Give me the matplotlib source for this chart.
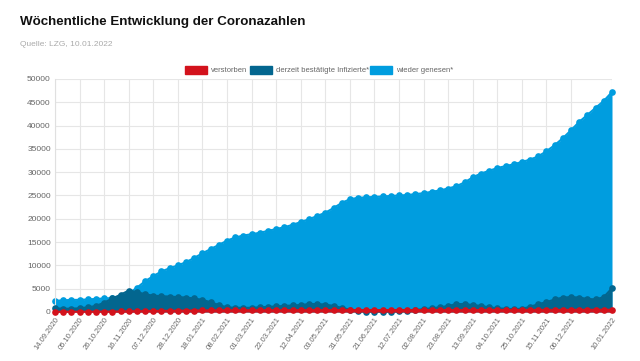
import numpy as np
import pandas as pd
import matplotlib
matplotlib.use('Agg')
import matplotlib.pyplot as plt
import matplotlib.patches as patches

plt.rcParams['font.family'] = ['Liberation Sans', 'DejaVu Sans']

# weekly dates (week of 24.05.2021 missing in the source)
weeks = pd.date_range('2020-09-14', '2022-01-10', freq='7D')
weeks = weeks[weeks != pd.Timestamp('2021-05-24')]
labels = [d.strftime('%d.%m.%Y') for d in weeks]

genesen = [2400, 2500, 2600, 2600, 2700, 2800, 2900, 3000, 3200, 4000,
           5200, 6600, 7700, 8700, 9400, 10000, 10700, 11600, 12600, 13500,
           14400, 15300, 16000, 16400, 16700, 17000, 17400, 17800, 18200, 18700,
           19300, 19900, 20600, 21300, 22300, 23400, 24200, 24500, 24600, 24700,
           24800, 24900, 25000, 25100, 25300, 25500, 25800, 26100, 26500, 27000,
           27800, 28900, 29700, 30300, 30900, 31300, 31700, 32200, 32700, 33400,
           34500, 35800, 37300, 39000, 40800, 42300, 43800, 45300, 47200]

infizierte = [800, 700, 700, 800, 1000, 1300, 2000, 2900, 3700, 4600,
              4300, 3800, 3500, 3400, 3300, 3200, 3100, 2900, 2600, 2100,
              1500, 1000, 900, 900, 900, 1000, 1100, 1200, 1300, 1400,
              1500, 1700, 1700, 1600, 1300, 900, 500, 200, 100, 60,
              60, 80, 150, 300, 450, 600, 800, 1000, 1300, 1700,
              1700, 1500, 1300, 1000, 800, 700, 600, 700, 1100, 1700,
              2100, 2700, 3100, 3200, 3100, 2800, 2700, 3200, 5100]

verstorben = [60, 62, 64, 66, 70, 75, 85, 100, 120, 145,
              170, 195, 220, 240, 260, 280, 300, 320, 340, 355,
              365, 370, 375, 378, 380, 382, 385, 388, 392, 396,
              400, 404, 408, 410, 412, 413, 414, 414, 415, 415,
              415, 416, 416, 417, 418, 419, 420, 421, 423, 425,
              427, 429, 431, 433, 435, 437, 439, 441, 443, 446,
              449, 452, 456, 460, 464, 468, 472, 476, 480]

c_red = '#d3121c'
c_dark = '#03668f'
c_light = '#009ddf'

W, H = 640, 361
fig = plt.figure(figsize=(W / 100, H / 100), dpi=100, facecolor='white')
ax = fig.add_axes([55 / W, 1 - 312 / H, (612 - 55) / W, (312 - 79) / H])

x = np.arange(len(labels))
series = [(genesen, c_light, 'wieder genesen*'),
          (infizierte, c_dark, 'derzeit bestätigte Infizierte*'),
          (verstorben, c_red, 'verstorben')]
for z, (vals, col, name) in enumerate(series):
    ax.fill_between(x, 0, vals, color=col, lw=0, zorder=2 + z)
    ax.plot(x, vals, color=col, lw=1.5, marker='o', markersize=4.8,
            markeredgewidth=0, zorder=2 + z, clip_on=False)

ax.set_xlim(0, len(labels) - 1)
ax.set_ylim(0, 50000)
ax.set_yticks(np.arange(0, 50001, 5000))
ax.set_yticklabels([str(v) for v in range(0, 50001, 5000)], fontsize=6, color='#666666')

tick_idx = list(range(0, 64, 3)) + [len(labels) - 1]
ax.set_xticks(tick_idx)
ax.set_xticklabels([labels[i] for i in tick_idx], rotation=55, ha='right',
                   rotation_mode='anchor', fontsize=5.5, color='#666666')

ax.grid(True, color='#e6e6e6', lw=0.8, zorder=0)
ax.set_axisbelow(True)
for s in ['top', 'right']:
    ax.spines[s].set_visible(False)
ax.spines['left'].set_color('#e0e0e0')
ax.spines['bottom'].set_color('#e0e0e0')
ax.tick_params(length=0, pad=3)

# title
fig.text(20 / W, 1 - 22 / H, 'Wöchentliche Entwicklung der Coronazahlen',
         fontsize=9.6, fontweight='bold', color='#111111', va='center')
fig.text(20 / W, 1 - 45 / H, 'Quelle: LZG, 10.01.2022', fontsize=6,
         color='#aaaaaa', va='center')

# legend
leg_items = [(185, c_red, 'verstorben'),
             (250, c_dark, 'derzeit bestätigte Infizierte*'),
             (370, c_light, 'wieder genesen*')]
for lx, col, name in leg_items:
    fig.patches.append(patches.Rectangle((lx / W, 1 - 74 / H), 22 / W, 8 / H,
                                         transform=fig.transFigure, color=col))
    fig.text((lx + 26) / W, 1 - 70 / H, name, fontsize=5.5, color='#666666', va='center')

plt.savefig('out.png', dpi=100)
